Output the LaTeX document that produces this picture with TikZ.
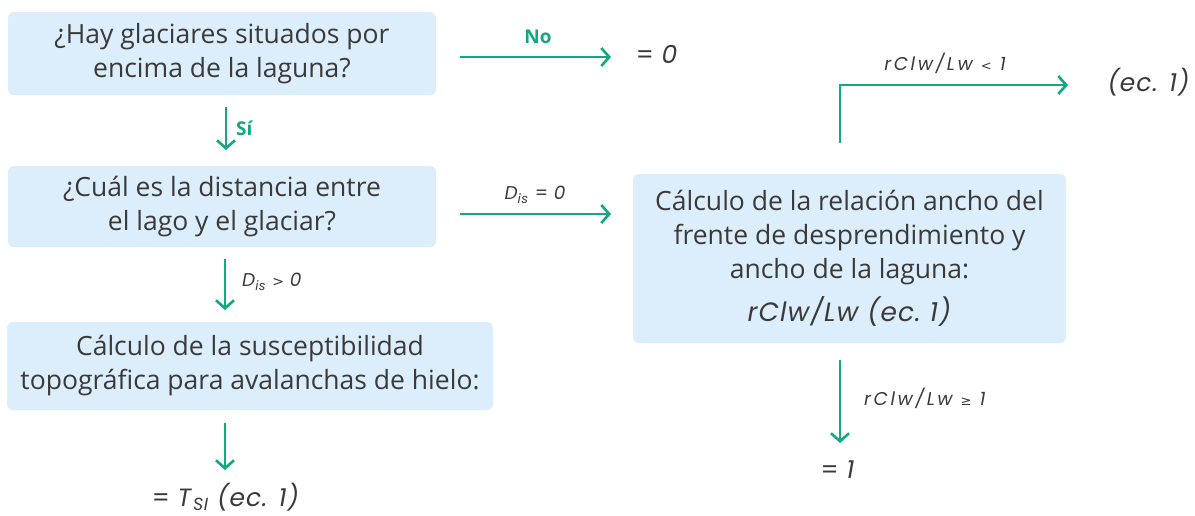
\documentclass[tikz,border=0pt]{standalone}
\usepackage{fontspec}
\setmainfont{Open Sans}
\newfontfamily\symfont{DejaVu Sans}
\newfontfamily\fmlA[LetterSpace=4]{Poppins}
\newfontfamily\fmlB[LetterSpace=14]{Poppins}
\usetikzlibrary{arrows.meta}
\definecolor{boxfill}{HTML}{DCEEFB}
\definecolor{grn}{HTML}{12A882}
\definecolor{txt}{HTML}{3A3A3A}
\tikzset{
  qbox/.style={fill=boxfill, rounded corners=6pt, inner sep=0pt, align=center,
    text=txt, font=\fontsize{26.5}{34}\selectfont},
  arr/.style={draw=grn, line width=2.6pt, -{Straight Barb[length=8pt,width=18pt,line width=2.6pt]}},
  lbl/.style={text=txt, font=\fmlB\fontsize{18.5}{20}\selectfont\itshape, inner sep=0pt},
  dlbl/.style={text=txt, font=\fmlA\fontsize{18.5}{20}\selectfont\itshape, inner sep=0pt},
  res/.style={text=txt, font=\fmlA\fontsize{25}{28}\selectfont, inner sep=0pt},
  glbl/.style={text=grn, font=\fontsize{19}{20}\selectfont\bfseries, inner sep=0pt}
}
\begin{document}
\begin{tikzpicture}[x=1pt,y=-1pt]
\path[use as bounding box, fill=white] (0,0) rectangle (1195,515);

\node[qbox, minimum width=428pt, minimum height=83pt] (q1) at (222,53.5)
  {¿Hay glaciares situados por\\encima de la laguna?};
\node[qbox, minimum width=428pt, minimum height=81pt] (q2) at (222,206.5)
  {¿Cuál es la distancia entre\\el lago y el glaciar?};
\node[qbox, minimum width=486pt, minimum height=88pt] (q3) at (250,366)
  {Cálculo de la susceptibilidad\\topográfica para avalanchas de hielo:};
\node[qbox, minimum width=433pt, minimum height=169pt] (q4) at (849.5,258.5)
  {Cálculo de la relación ancho del\\frente de desprendimiento y\\ancho de la laguna:\\[9pt]
   {\fmlA\itshape rClw/Lw (ec.~1)}};

% results
\node[res] (r0) at (657,54) {= \textit{0}};
\node[res] (rT) at (226,497) {= \textit{T}\textsubscript{\textit{SI}} \textit{(ec. 1)}};
\node[res] (rE) at (1149,82) {\textit{(ec. 1)}};
\node[res] (r1) at (838,470) {= \textit{1}};

% coordinates
\coordinate (a1s) at (460,57);  \coordinate (a1e) at (611,57);
\coordinate (a2s) at (226,107); \coordinate (a2e) at (226,150);
\coordinate (a3s) at (460,214); \coordinate (a3e) at (611,214);
\coordinate (a4s) at (225,259); \coordinate (a4e) at (225,310);
\coordinate (a5s) at (225,423); \coordinate (a5e) at (225,470);
\coordinate (a6s) at (840,143); \coordinate (a6e) at (1068,85);
\coordinate (a7s) at (840,360); \coordinate (a7e) at (840,443);

\draw[arr] (a1s) -- (a1e);
\node[glbl] (lno) at (538,37) {No};
\draw[arr] (a2s) -- (a2e);
\node[glbl, anchor=west] (lsi) at (236,128) {Sí};
\draw[arr] (a3s) -- (a3e);
\node[dlbl] (ld0) at (535,195) {D\textsubscript{is} \upshape= \itshape 0};
\draw[arr] (a4s) -- (a4e);
\node[dlbl, anchor=west] (ldg) at (242,282) {D\textsubscript{is} \upshape{\symfont\fontsize{14}{16}\selectfont >} \itshape 0};
\draw[arr] (a5s) -- (a5e);
\draw[arr] (a6s) |- (a6e);
\node[lbl] (llt) at (945,63) {rClw/Lw {\upshape\symfont\fontsize{13}{16}\selectfont <} 1};
\draw[arr] (a7s) -- (a7e);
\node[lbl, anchor=west] (lge) at (864,398) {rClw/Lw {\upshape\symfont\fontsize{13}{16}\selectfont ≥} 1};
\end{tikzpicture}
\end{document}
